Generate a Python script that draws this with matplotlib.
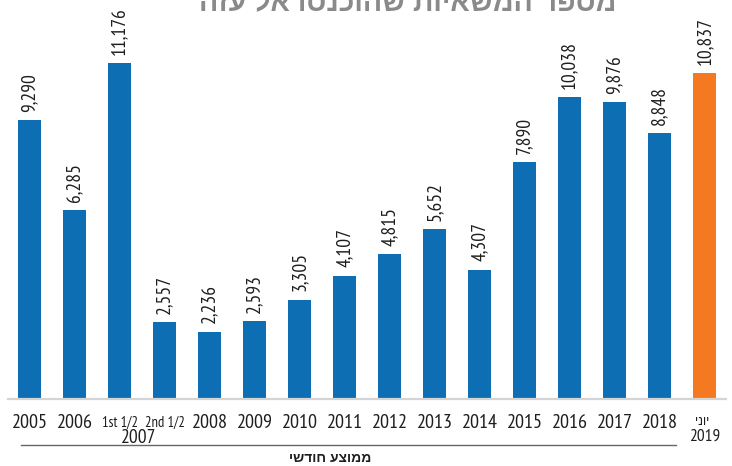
import matplotlib

matplotlib.use("Agg")
import matplotlib.pyplot as plt
from matplotlib import font_manager
from matplotlib.transforms import blended_transform_factory


# monthly average trucks, 2005 .. June 2019
categories = ["2005", "2006", "1st 1/2", "2nd 1/2", "2008", "2009", "2010", "2011",
              "2012", "2013", "2014", "2015", "2016", "2017", "2018", "יוני\n2019"]
values = [9290, 6285, 11176, 2557, 2236, 2593, 3305, 4107,
          4815, 5652, 4307, 7890, 10038, 9876, 8848, 10837]
group_label = "2007"
footer_label = "ממוצע חודשי"
title_text = "מספר המשאיות שהוכנסו אל עזה"

BLUE = "#0e6eb4"
ORANGE = "#f47920"
TEXT = "#1e1e1e"

W, H = 732, 466


def pick_font(names):
    available = {f.name for f in font_manager.fontManager.ttflist}
    for name in names:
        if name in available:
            return name
    return "DejaVu Sans"


def rtl(text):
    # matplotlib has no bidi support, so Hebrew is laid out reversed by hand
    return text[::-1]


narrow = pick_font(["PT Sans Narrow", "Archivo Narrow", "Roboto Condensed",
                    "Liberation Sans Narrow", "Liberation Sans"])
hebrew = pick_font(["Liberation Sans", "DejaVu Sans"])

fig = plt.figure(figsize=(W / 100, H / 100), dpi=100)
fig.patch.set_facecolor("white")

# axes in pixel terms: left 8, right 726, baseline 399, top 0
ax = fig.add_axes([8 / W, 1 - 399 / H, (726 - 8) / W, 399 / H])
x = list(range(len(values)))
colors = [BLUE] * (len(values) - 1) + [ORANGE]
bars = ax.bar(x, values, width=0.51, color=colors, zorder=2)

step = 45.0
ax.set_xlim((8 - 29.5) / step, (726 - 29.5) / step)
ax.set_ylim(0, 399 / 0.03004)

for side in ["top", "left", "right"]:
    ax.spines[side].set_visible(False)
ax.spines["bottom"].set_color("#d4d4d4")
ax.spines["bottom"].set_linewidth(1.6)
ax.set_xticks([])
ax.set_yticks([])

ax.bar_label(bars, labels=[f"{v:,}" for v in values], rotation=90, padding=6,
             fontsize=14, family=narrow, color=TEXT)

trans = blended_transform_factory(ax.transData, fig.transFigure)


def fy(py):
    return 1 - py / H


for i, label in enumerate(categories):
    if "\n" in label:
        top, bottom = label.split("\n")
        ax.text(i - 0.05, fy(422), rtl(top), transform=trans, ha="center", va="center",
                fontsize=9, family=hebrew, color=TEXT)
        ax.text(i, fy(437), bottom, transform=trans, ha="center", va="center",
                fontsize=12.5, family=narrow, color=TEXT)
    elif "1/2" in label:
        ax.text(i, fy(423), label, transform=trans, ha="center", va="center",
                fontsize=10.5, family=narrow, color=TEXT)
    else:
        ax.text(i, fy(423), label, transform=trans, ha="center", va="center",
                fontsize=14.5, family=narrow, color=TEXT)

ax.text(2.5 - 0.07, fy(438), group_label, transform=trans, ha="center", va="center",
        fontsize=14, family=narrow, color=TEXT)

fig.add_artist(plt.Line2D([21 / W, 676 / W], [fy(445), fy(445)], color="#666666",
                          linewidth=1.0))

fig.text(330 / W, fy(458), rtl(footer_label), ha="center", va="center",
         fontsize=10, fontweight="bold", family=hebrew, color=TEXT)

fig.text(408 / W, fy(11), rtl(title_text), ha="center", va="baseline",
         fontsize=20.5, fontweight="bold", family=hebrew, color="#8a8a8a")

fig.savefig("out.png", dpi=100, facecolor="white")
